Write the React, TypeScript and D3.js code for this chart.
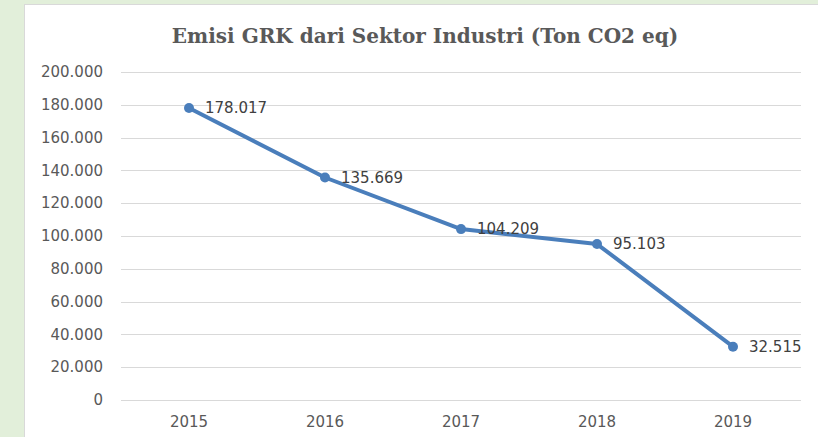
import React from "react";
import * as d3 from "d3";

const years = ["2015", "2016", "2017", "2018", "2019"];
const values = [178017, 135669, 104209, 95103, 32515];
const yTicks = [0, 20000, 40000, 60000, 80000, 100000, 120000, 140000, 160000, 180000, 200000];
const title = "Emisi GRK dari Sektor Industri (Ton CO2 eq)";

const W = 818;
const H = 437;

export default function App() {
  const locale = d3.formatLocale({ decimal: ",", thousands: ".", grouping: [3], currency: ["Rp", ""] });
  const fmt = locale.format(",d");
  const x = d3.scaleBand<string>().domain(years).range([121, 801]);
  const y = d3.scaleLinear().domain([0, 200000]).range([400, 72]);
  const cx = (d: string) => (x(d) as number) + x.bandwidth() / 2;
  const line = d3
    .line<number>()
    .x((_, i) => cx(years[i]))
    .y((v) => y(v));
  const textColor = "#595959";
  const lineColor = "#4a7ebb";
  const numFont = "'DejaVu Sans', Verdana, sans-serif";

  return (
    <svg
      width={W}
      height={H}
      style={{ position: "fixed", left: 0, top: 0 }}
    >
      <rect x={0} y={0} width={W} height={H} fill="#e2efda" />
      <rect x={24.5} y={4.5} width={W} height={H} fill="#ffffff" stroke="#d9d9d9" strokeWidth={1} />
      <text
        x={425}
        y={43}
        textAnchor="middle"
        fontFamily="'DejaVu Serif', serif"
        fontWeight="bold"
        fontSize={20}
        fill={textColor}
      >
        {title}
      </text>
      {yTicks.map((t) => (
        <g key={t}>
          <line x1={121} x2={801} y1={Math.round(y(t)) + 0.5} y2={Math.round(y(t)) + 0.5} stroke="#d9d9d9" strokeWidth={1} />
          <text
            x={103}
            y={y(t)}
            dy="0.35em"
            textAnchor="end"
            fontFamily={numFont}
            fontSize={15}
            fill={textColor}
          >
            {fmt(t)}
          </text>
        </g>
      ))}
      {years.map((yr) => (
        <text
          key={yr}
          x={cx(yr)}
          y={427}
          textAnchor="middle"
          fontFamily={numFont}
          fontSize={15}
          fill={textColor}
        >
          {yr}
        </text>
      ))}
      <path d={line(values) as string} fill="none" stroke={lineColor} strokeWidth={4} strokeLinejoin="round" />
      {values.map((v, i) => (
        <g key={i}>
          <circle cx={cx(years[i])} cy={y(v)} r={5} fill={lineColor} />
          <text
            x={cx(years[i]) + 16}
            y={y(v)}
            dy="0.35em"
            fontFamily={numFont}
            fontSize={15}
            fill="#404040"
          >
            {fmt(v)}
          </text>
        </g>
      ))}
    </svg>
  );
}
